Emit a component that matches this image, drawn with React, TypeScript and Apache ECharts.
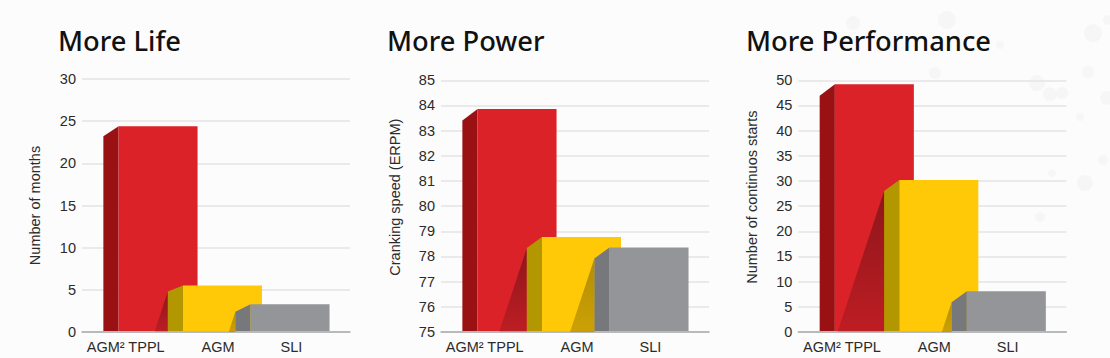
import React, { useEffect, useRef } from "react";
import * as echarts from "echarts";

const categories = ["AGM² TPPL", "AGM", "SLI"];
const titles = ["More Life", "More Power", "More Performance"];
const axisNames = ["Number of months", "Cranking speed (ERPM)", "Number of continuos starts"];
const lifeValues = [24.4, 5.5, 3.3];
const powerValues = [83.86, 78.77, 78.36];
const startsValues = [49.2, 30.2, 8.1];
const lifeAxis = { min: 0, max: 30, interval: 5 };
const powerAxis = { min: 75, max: 85, interval: 1 };
const startsAxis = { min: 0, max: 50, interval: 5 };

const FONT = "'Liberation Sans', Arial, sans-serif";
const frontColors = ["#DC2229", "#FFC907", "#939598"];
const sideColors = ["#9A1114", "#B39700", "#77787B"];
const barWidth = 79;
const sideWidth = 15.2;
const frontShift = [-8.1, -33, -54.8];
const labelShift = [-1, 2, -14];
const sideDrops = [[10, 6, 7.7], [11.5, 11, 11], [11.4, 11, 11]];
const gridLefts = [82, 441, 798.3];
const titleLefts = [59, 388, 747];
const gridTops = [79, 80.3, 80.3];
const namePositions = [44.5, 43.5, 44];
const nameShifts = [0, 18, 18];
const splatter = [
  [853, 23, 7], [947, 20, 9], [1093, 33, 9], [1088, 72, 6], [1037, 83, 8], [1050, 94, 7],
  [1062, 93, 6], [935, 73, 6], [1107, 98, 7], [1080, 117, 4], [1085, 183, 8], [1040, 217, 5],
  [1103, 160, 5], [1052, 173, 4], [1000, 45, 4], [1108, 20, 5],
];

function makeRenderItem(chart: number, axisMin: number) {
  return (params: any, api: any) => {
    const i = params.dataIndex;
    const top = api.coord([i, api.value(1)]);
    const base = api.coord([i, axisMin]);
    const frontLeft = base[0] + frontShift[i];
    const sideLeft = frontLeft - sideWidth;
    const sideTop = top[1] + sideDrops[chart][i];
    const children: any[] = [];
    if (i > 0) {
      const reach = (base[1] - sideTop) * 0.33;
      const stops = i === 1 ? [0.36, 0.14] : [0.3, 0.2];
      children.push({
        type: "polygon",
        shape: { points: [[sideLeft, sideTop], [sideLeft, base[1]], [sideLeft - reach, base[1]]] },
        style: {
          fill: {
            type: "linear", x: 0, y: 0, x2: 0, y2: 1,
            colorStops: [
              { offset: 0, color: `rgba(0,0,0,${stops[0]})` },
              { offset: 1, color: `rgba(0,0,0,${stops[1]})` },
            ],
          },
        },
      });
    }
    children.push({
      type: "polygon",
      shape: {
        points: [[sideLeft, sideTop], [frontLeft, top[1]], [frontLeft, base[1] - 1], [sideLeft, base[1] - 1]],
      },
      style: { fill: sideColors[i] },
    });
    children.push({
      type: "rect",
      shape: { x: frontLeft, y: top[1], width: barWidth, height: base[1] - 1 - top[1] },
      style: { fill: frontColors[i] },
    });
    return { type: "group", children };
  };
}

export default function App() {
  const ref = useRef<HTMLDivElement>(null);
  useEffect(() => {
    document.body.style.margin = "0";
    const chart = echarts.init(ref.current!, undefined, { renderer: "svg" });
    const axes = [lifeAxis, powerAxis, startsAxis];
    const values = [lifeValues, powerValues, startsValues];
    const rich: any = {};
    labelShift.forEach((s, i) => {
      rich["c" + i] = {
        fontFamily: FONT,
        fontSize: 14.5,
        color: "#2B2B2B",
        padding: s < 0 ? [0, -2 * s, 0, 0] : [0, 0, 0, 2 * s],
      };
    });
    chart.setOption({
      animation: false,
      backgroundColor: "#FCFCFC",
      title: titles.map((text, i) => ({
        text,
        left: titleLefts[i] - 1,
        top: 27,
        padding: 0,
        textStyle: { fontFamily: "'Noto Sans', sans-serif", fontSize: 27.3, fontWeight: 500, color: "#111111" },
      })),
      graphic: splatter.map(([cx, cy, r]) => ({
        type: "circle",
        z: -10,
        silent: true,
        shape: { cx, cy, r },
        style: { fill: "#F6F6F6" },
      })),
      grid: gridLefts.map((left, i) => ({
        left,
        top: gridTops[i],
        width: 268,
        height: 332 - gridTops[i],
      })),
      xAxis: gridLefts.map((_, i) => ({
        type: "category",
        gridIndex: i,
        data: categories,
        axisTick: { show: false },
        axisLine: { lineStyle: { color: "#A7A9AC", width: 1.5 } },
        splitLine: { show: false },
        axisLabel: {
          margin: 7,
          interval: 0,
          formatter: (v: string) => `{c${categories.indexOf(v)}|${v}}`,
          rich,
        },
      })),
      yAxis: axes.map((a, i) => ({
        type: "value",
        gridIndex: i,
        min: a.min,
        max: a.max,
        interval: a.interval,
        name: axisNames[i],
        nameLocation: "middle",
        nameGap: namePositions[i] - 5,
        nameRotate: 90,
        nameTextStyle: {
          fontFamily: FONT,
          fontSize: 14.5,
          color: "#2B2B2B",
          padding: [0, 0, 0, nameShifts[i]],
        },
        axisLine: { show: false },
        axisTick: { show: false },
        axisLabel: { fontFamily: FONT, fontSize: 14.5, color: "#2B2B2B", margin: 6 },
        splitLine: { lineStyle: { color: "#E4E4E4", width: 1.5 } },
      })),
      series: axes.map((a, i) => ({
        type: "custom",
        xAxisIndex: i,
        yAxisIndex: i,
        clip: false,
        z: 3,
        encode: { x: 0, y: 1 },
        data: values[i].map((v, k) => [k, v]),
        renderItem: makeRenderItem(i, a.min),
      })),
    });
    return () => chart.dispose();
  }, []);
  return <div ref={ref} style={{ width: 1110, height: 358 }} />;
}
